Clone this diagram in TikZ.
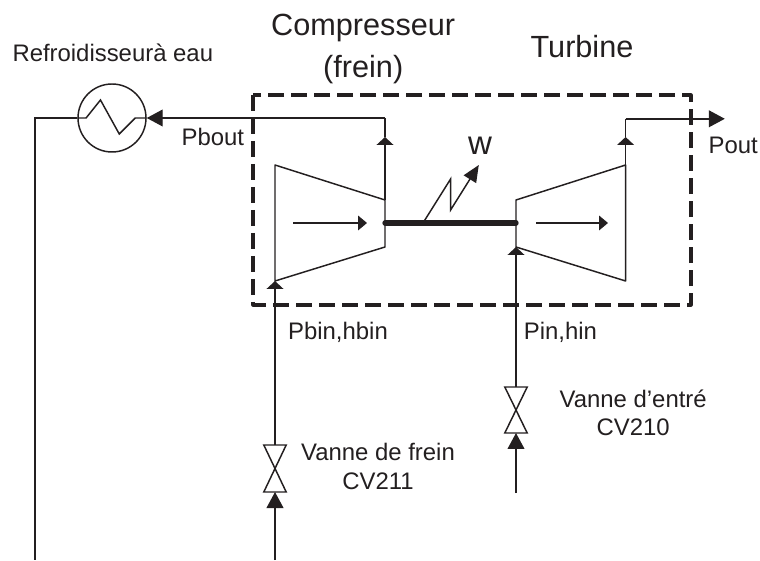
\documentclass[tikz,border=0pt]{standalone}
\usepackage{fontspec}
\setmainfont{Liberation Sans}
\usetikzlibrary{arrows.meta,positioning,calc}
\definecolor{ink}{HTML}{231F20}
\tikzset{
  pipe/.style={draw=ink, line width=1.05pt},
  tipSmall/.style={pipe, -{Triangle[length=0.2cm,width=0.42cm,color=ink]}},
  tipLarge/.style={pipe, -{Triangle[length=0.4cm,width=0.42cm,color=ink]}},
  tipFlow/.style={pipe, -{Triangle[length=0.22cm,width=0.36cm,color=ink]}},
  valvebody/.style={pipe, line join=miter},
  lblSmall/.style={text=ink, inner sep=0pt, align=center, font=\fontsize{17}{20.5}\selectfont},
  lblLarge/.style={text=ink, inner sep=0pt, align=center, font=\fontsize{21.8}{29.8}\selectfont},
}
\begin{document}
\begin{tikzpicture}
  \useasboundingbox (0,0) rectangle (19,14);

  % enveloppe
  \draw[draw=ink, line width=2.2pt, dash pattern=on 0.4cm off 0.175cm, line join=round]
    (6.325,11.625) rectangle (17.275,6.375);

  % refroidisseur
  \node[circle, pipe, minimum size=1.7cm, inner sep=0pt] (cooler) at (2.8,11.05) {};
  \coordinate (coolerleft) at (0.875,11.05);
  \coordinate (coolerbottom) at (0.875,0);
  \draw[pipe] (cooler.west) -- ++(0.22,0) -- ++(0.36,0.45) -- ++(0.47,-0.85) -- ++(0.4,0.4) -- (cooler.east);
  \draw[pipe] (cooler.west) -- (coolerleft) -- (coolerbottom);

  % compresseur
  \coordinate (compA) at (6.875,9.875);
  \coordinate (compB) at (9.625,9);
  \coordinate (compC) at (9.625,7.825);
  \coordinate (compD) at (6.875,6.975);
  \draw[pipe, line join=round] (compA) -- (compB) -- (compC) -- (compD) -- cycle;
  \coordinate (compflowA) at (7.325,8.425);
  \coordinate (compflowB) at (9.175,8.425);
  \draw[tipFlow] (compflowA) -- (compflowB);

  % turbine
  \coordinate (turbA) at (12.9,9);
  \coordinate (turbB) at (15.64,9.875);
  \coordinate (turbC) at (15.64,6.975);
  \coordinate (turbD) at (12.9,7.825);
  \draw[pipe, line join=round] (turbA) -- (turbB) -- (turbC) -- (turbD) -- cycle;
  \coordinate (turbflowA) at (13.4,8.425);
  \coordinate (turbflowB) at (15.2,8.425);
  \draw[tipFlow] (turbflowA) -- (turbflowB);

  % arbre et travail
  \coordinate (shaftA) at (9.625,8.425);
  \coordinate (shaftB) at (12.9,8.425);
  \draw[draw=ink, line width=3.8pt, line cap=round] (shaftA) -- (shaftB);
  \coordinate (workA) at (10.575,8.425);
  \coordinate (workB) at (11.265,9.525);
  \coordinate (workC) at (11.265,8.75);
  \coordinate (workD) at (11.97,9.875);
  \draw[pipe, -{Triangle[length=0.42cm,width=0.36cm,color=ink]}] (workA) -- (workB) -- (workC) -- (workD);

  % sorties
  \coordinate (compout) at (9.625,10.575);
  \coordinate (compcorner) at (9.625,11.05);
  \draw[tipSmall] (compB) -- (compout);
  \draw[pipe] (compout) -- (compcorner);
  \draw[tipLarge] (compcorner) -- (cooler.east);
  \coordinate (turbout) at (15.64,10.575);
  \coordinate (turbcorner) at (15.64,11.03);
  \coordinate (turbend) at (18.12,11.03);
  \draw[tipSmall] (turbB) -- (turbout);
  \draw[pipe] (turbout) -- (turbcorner);
  \draw[tipLarge] (turbcorner) -- (turbend);

  % vanne de frein
  \coordinate (vfT) at (6.875,2.875);
  \coordinate (vfB) at (6.875,1.7);
  \coordinate (vfS) at (6.875,0);
  \draw[valvebody] ($(vfT)+(-0.28,0)$) -- ($(vfT)+(0.28,0)$) -- ($(vfB)+(-0.28,0)$) -- ($(vfB)+(0.28,0)$) -- cycle;
  \draw[tipLarge] (vfS) -- (vfB);
  \draw[tipSmall] (vfT) -- (compD);

  % vanne d'entree
  \coordinate (veT) at (12.9,4.325);
  \coordinate (veB) at (12.9,3.175);
  \coordinate (veS) at (12.9,1.675);
  \draw[valvebody] ($(veT)+(-0.28,0)$) -- ($(veT)+(0.28,0)$) -- ($(veB)+(-0.28,0)$) -- ($(veB)+(0.28,0)$) -- cycle;
  \draw[tipLarge] (veS) -- (veB);
  \draw[tipSmall] (veT) -- (turbD);

  % textes
  \node[lblLarge] (comptext) at (9.08,12.78) {Compresseur\\(frein)};
  \node[lblLarge] (turbtext) at (14.55,12.83) {Turbine};
  \node[lblSmall] (cooltext) at (2.82,12.67) {Refroidisseurà eau};
  \node[lblSmall] (pbout) at (5.32,10.58) {Pbout};
  \node[lblSmall] (pout) at (18.33,10.37) {Pout};
  \node[lblLarge, font=\fontsize{23.5}{26}\selectfont] (wtext) at (12,10.35) {w};
  \node[lblSmall] (pbin) at (8.45,5.68) {Pbin,hbin};
  \node[lblSmall] (pin) at (14.01,5.68) {Pin,hin};
  \node[lblSmall] (vetext) at (15.83,3.68) {Vanne d’entré\\CV210};
  \node[lblSmall] (vftext) at (9.45,2.33) {Vanne de frein\\CV211};
\end{tikzpicture}
\end{document}
